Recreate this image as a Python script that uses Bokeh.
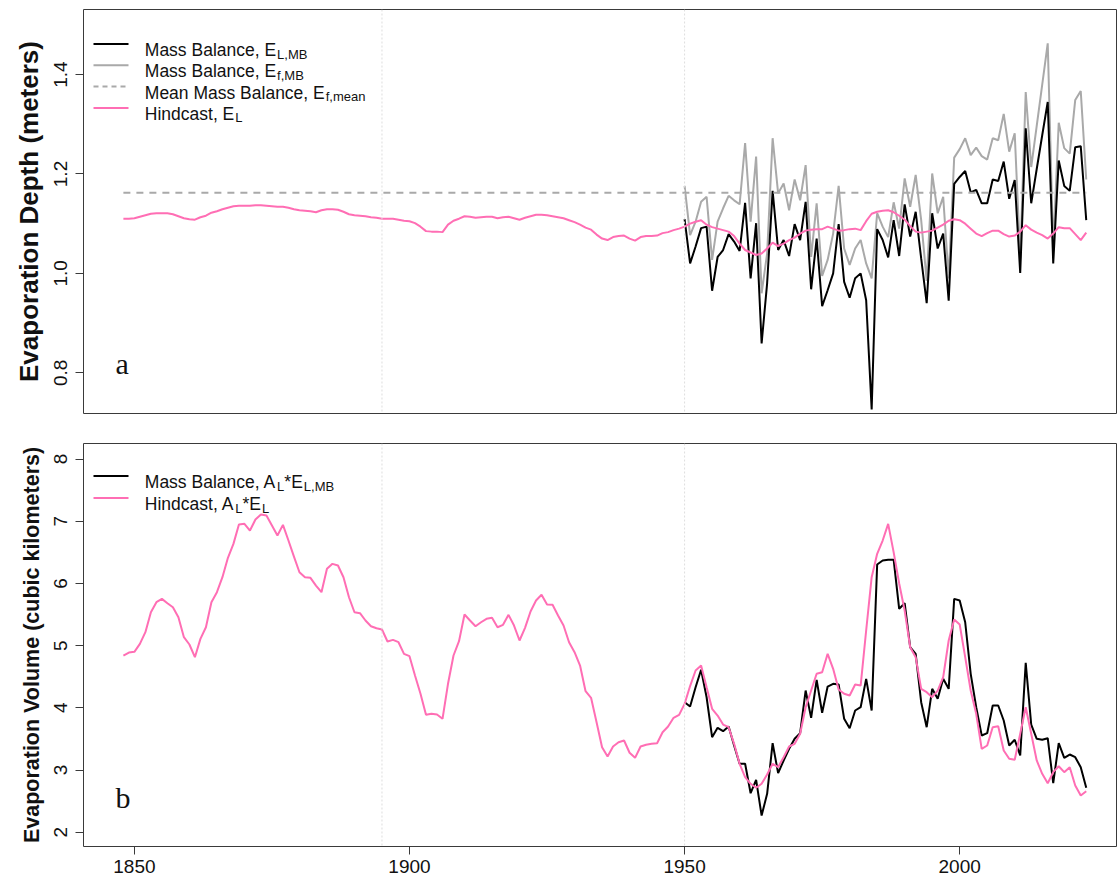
from bokeh.plotting import figure
from bokeh.layouts import column
from bokeh.models import Span, Label, Arrow, FixedTicker, Range1d, PrintfTickFormatter
from bokeh.embed import file_html
from bokeh.resources import INLINE

# ---------------------------------------------------------------- data
years_hindcast = list(range(1848, 2024))
years_mb = list(range(1950, 2024))

# Hindcast lake evaporation depth, E_L (m)
depth_hindcast = [
    1.110, 1.110, 1.111, 1.114, 1.117, 1.120, 1.121, 1.121, 1.121, 1.119,
    1.115, 1.111, 1.109, 1.108, 1.113, 1.116, 1.122, 1.125, 1.129, 1.132,
    1.135, 1.136, 1.136, 1.136, 1.137, 1.137, 1.136, 1.135, 1.134, 1.134,
    1.132, 1.129, 1.127, 1.126, 1.125, 1.123, 1.127, 1.129, 1.129, 1.128,
    1.124, 1.119, 1.117, 1.116, 1.115, 1.113, 1.112, 1.110, 1.110, 1.110,
    1.108, 1.106, 1.105, 1.101, 1.094, 1.085, 1.084, 1.084, 1.083, 1.098,
    1.106, 1.110, 1.115, 1.114, 1.112, 1.113, 1.114, 1.114, 1.111, 1.113,
    1.114, 1.111, 1.108, 1.112, 1.115, 1.118, 1.118, 1.117, 1.115, 1.113,
    1.111, 1.107, 1.103, 1.098, 1.092, 1.088, 1.078, 1.070, 1.067, 1.073,
    1.075, 1.076, 1.070, 1.066, 1.073, 1.075, 1.075, 1.076, 1.081, 1.083,
    1.087, 1.090, 1.094, 1.100, 1.104, 1.107, 1.098, 1.093, 1.090, 1.087,
    1.084, 1.075, 1.060, 1.047, 1.042, 1.037, 1.040, 1.050, 1.062, 1.055,
    1.060, 1.067, 1.072, 1.080, 1.086, 1.088, 1.089, 1.089, 1.094, 1.090,
    1.086, 1.087, 1.089, 1.090, 1.087, 1.105, 1.120, 1.124, 1.126, 1.127,
    1.123, 1.116, 1.108, 1.095, 1.084, 1.082, 1.084, 1.086, 1.092, 1.098,
    1.106, 1.109, 1.107, 1.100, 1.090, 1.080, 1.075, 1.081, 1.086, 1.086,
    1.079, 1.074, 1.076, 1.084, 1.097, 1.088, 1.082, 1.077, 1.070, 1.080,
    1.093, 1.091, 1.091, 1.079, 1.067, 1.082,
]

# Mass balance lake evaporation depth, E_L,MB (m)
depth_mb_lake = [
    1.109, 1.020, 1.054, 1.091, 1.094, 0.965, 1.033, 1.047, 1.079, 1.064,
    1.045, 1.142, 0.990, 1.101, 0.859, 0.980, 1.166, 1.047, 1.067, 1.035,
    1.099, 1.067, 1.144, 0.968, 1.070, 0.934, 0.966, 1.000, 1.099, 0.983,
    0.951, 0.990, 1.000, 0.946, 0.726, 1.089, 1.067, 1.032, 1.107, 1.035,
    1.139, 1.074, 1.124, 1.030, 0.940, 1.121, 1.050, 1.080, 0.945, 1.180,
    1.194, 1.206, 1.163, 1.168, 1.141, 1.141, 1.189, 1.186, 1.225, 1.150,
    1.188, 1.001, 1.292, 1.141, 1.210, 1.278, 1.345, 1.020, 1.227, 1.176,
    1.166, 1.254, 1.256, 1.107,
]

# Mass balance evaporation depth, E_f,MB (m)
depth_mb_f = [
    1.176, 1.077, 1.104, 1.144, 1.154, 1.027, 1.104, 1.131, 1.156, 1.147,
    1.139, 1.262, 1.104, 1.235, 0.960, 1.040, 1.272, 1.161, 1.181, 1.127,
    1.189, 1.147, 1.218, 1.033, 1.141, 0.995, 1.027, 1.080, 1.176, 1.050,
    1.017, 1.050, 1.067, 1.020, 0.990, 1.121, 1.094, 1.073, 1.143, 1.090,
    1.191, 1.134, 1.198, 1.107, 0.985, 1.201, 1.121, 1.154, 0.990, 1.233,
    1.250, 1.272, 1.238, 1.253, 1.236, 1.229, 1.272, 1.268, 1.321, 1.245,
    1.282, 1.030, 1.365, 1.214, 1.297, 1.380, 1.463, 1.050, 1.303, 1.252,
    1.241, 1.349, 1.367, 1.189,
]

# Mean mass balance depth, E_f,mean (m)
mean_years = [1848, 2023]
depth_mean = [1.162, 1.162]

# Hindcast evaporation volume, A_L*E_L (km^3)
volume_hindcast = [
    4.841, 4.889, 4.900, 5.029, 5.216, 5.537, 5.698, 5.752, 5.682, 5.617,
    5.457, 5.135, 5.018, 4.814, 5.109, 5.296, 5.698, 5.859, 6.100, 6.412,
    6.636, 6.947, 6.958, 6.850, 7.027, 7.108, 7.091, 6.931, 6.770, 6.942,
    6.690, 6.432, 6.180, 6.100, 6.090, 5.966, 5.859, 6.235, 6.315, 6.288,
    6.100, 5.778, 5.537, 5.521, 5.404, 5.312, 5.280, 5.259, 5.066, 5.093,
    5.055, 4.868, 4.830, 4.519, 4.225, 3.887, 3.904, 3.892, 3.823, 4.386,
    4.841, 5.071, 5.500, 5.404, 5.312, 5.376, 5.431, 5.447, 5.296, 5.334,
    5.495, 5.323, 5.082, 5.286, 5.548, 5.725, 5.817, 5.661, 5.656, 5.484,
    5.323, 5.055, 4.894, 4.680, 4.267, 4.161, 3.768, 3.367, 3.217, 3.378,
    3.447, 3.474, 3.277, 3.196, 3.378, 3.405, 3.421, 3.431, 3.608, 3.699,
    3.839, 3.887, 4.064, 4.350, 4.600, 4.680, 4.331, 3.984, 3.876, 3.731,
    3.688, 3.421, 3.100, 2.884, 2.778, 2.714, 2.778, 2.928, 3.100, 3.045,
    3.206, 3.378, 3.421, 3.582, 4.010, 4.278, 4.547, 4.572, 4.868, 4.627,
    4.294, 4.225, 4.198, 4.375, 4.358, 5.243, 6.100, 6.476, 6.690, 6.958,
    6.500, 6.000, 5.564, 4.974, 4.814, 4.305, 4.251, 4.170, 4.278, 4.492,
    5.082, 5.420, 5.339, 4.814, 4.278, 3.904, 3.341, 3.394, 3.688, 3.704,
    3.314, 3.180, 3.164, 3.582, 4.010, 3.582, 3.153, 2.939, 2.788, 2.965,
    3.061, 2.965, 3.045, 2.751, 2.590, 2.659,
]

# Mass balance evaporation volume, A_L*E_L,MB (km^3)
volume_mb = [
    4.090, 4.021, 4.331, 4.611, 4.170, 3.527, 3.678, 3.624, 3.699, 3.394,
    3.100, 3.100, 2.627, 2.842, 2.268, 2.617, 3.431, 2.949, 3.153, 3.341,
    3.502, 3.592, 4.278, 3.839, 4.450, 3.920, 4.342, 4.386, 4.375, 3.823,
    3.672, 3.957, 4.010, 4.466, 3.957, 6.304, 6.368, 6.379, 6.379, 5.592,
    5.682, 4.974, 4.868, 4.090, 3.688, 4.305, 4.145, 4.466, 4.305, 5.752,
    5.725, 5.376, 4.547, 4.010, 3.555, 3.592, 4.037, 4.037, 3.796, 3.394,
    3.486, 3.233, 4.723, 3.731, 3.502, 3.486, 3.511, 2.788, 3.431, 3.196,
    3.249, 3.206, 3.045, 2.714,
]

x_ticks = [1850, 1900, 1950, 2000]
depth_ticks = [0.8, 1.0, 1.2, 1.4]
volume_ticks = [2, 3, 4, 5, 6, 7, 8]
marker_years = [1895, 1950]

# ---------------------------------------------------------------- style
BLACK = "#000000"
GREY = "#a9a9a9"
PINK = "#ff6eb4"
SANS = "Liberation Sans"
SERIF = "Liberation Serif"
LEGEND_SIZE = 17.5
SUB_SIZE = 13.0

# Arial/Helvetica advance widths (per 1000 em) for legend text layout
ADVANCE = {' ': 278, ',': 278, '*': 389, 'A': 667, 'B': 667, 'E': 667, 'H': 722,
           'L': 556, 'M': 833, 'a': 556, 'c': 500, 'd': 556, 'e': 556, 'f': 278,
           'i': 222, 'l': 222, 'm': 833, 'n': 556, 's': 500, 't': 278}


def text_width(s, size):
    return sum(ADVANCE.get(c, 556) for c in s) * size / 1000.0


def make_panel(y_lo, y_hi, frame_h, top_border, bottom_border, with_x_axis):
    p = figure(
        frame_width=1033, frame_height=frame_h,
        x_range=Range1d(1840.75, 2028.5), y_range=Range1d(y_lo, y_hi),
        output_backend="svg", toolbar_location=None,
        x_axis_location="below" if with_x_axis else None,
        min_border_left=83, min_border_right=1,
        min_border_top=top_border, min_border_bottom=bottom_border,
        background_fill_color="white", border_fill_color="white",
    )
    p.grid.visible = False
    p.outline_line_color = "#3a3a3a"
    p.outline_line_width = 1
    for ax in p.axis:
        ax.axis_line_color = None
        ax.major_tick_out = 8
        ax.major_tick_in = 0
        ax.minor_tick_out = 0
        ax.minor_tick_in = 0
        ax.major_tick_line_color = "#3a3a3a"
        ax.major_label_text_font = SANS
        ax.major_label_text_font_size = "19px"
        ax.major_label_text_color = "#111111"
        ax.axis_label_text_font = SANS
        ax.axis_label_text_font_style = "bold"
        ax.axis_label_text_color = "#111111"
    p.yaxis.major_label_orientation = "vertical"
    p.yaxis.major_label_standoff = 8
    p.yaxis.axis_label_standoff = 8
    if with_x_axis:
        p.xaxis.ticker = FixedTicker(ticks=x_ticks)
        p.xaxis.major_label_standoff = 5
    for yr in marker_years:
        p.add_layout(Span(location=yr, dimension="height", line_color="#dedede",
                          line_width=1, line_dash="2 2"))
    return p


def legend_row(p, y_base, parts, line_kw):
    """One legend entry: sample line, then text pieces (text, is_subscript)."""
    p.add_layout(Arrow(x_start=10, y_start=y_base + 6, x_end=45, y_end=y_base + 6,
                       start_units="screen", end_units="screen", start=None, end=None,
                       **line_kw))
    x = 61.3
    for text, sub in parts:
        size = SUB_SIZE if sub else LEGEND_SIZE
        p.add_layout(Label(x=x + (1 if sub else 0), y=y_base - (4 if sub else 0),
                           x_units="screen", y_units="screen", text=text,
                           text_font=SANS, text_font_size=f"{size}px",
                           text_color="#111111", text_baseline="alphabetic",
                           text_align="left"))
        x += text_width(text, size) + (1 if sub else 0)


# ---------------------------------------------------------------- panel a
top = make_panel(0.718, 1.531, 404, 9, 15, with_x_axis=False)
top.yaxis.ticker = FixedTicker(ticks=depth_ticks)
top.yaxis.formatter = PrintfTickFormatter(format="%.1f")
top.yaxis.axis_label = "Evaporation Depth (meters)"
top.yaxis.axis_label_text_font_size = "26px"

top.line(years_mb, depth_mb_f, line_color=GREY, line_width=2)
top.line(years_mb, depth_mb_lake, line_color=BLACK, line_width=2)
top.line(mean_years, depth_mean, line_color=GREY, line_width=2, line_dash="7 6")
top.line(years_hindcast, depth_hindcast, line_color=PINK, line_width=2)

legend_row(top, 363.5, [("Mass Balance, E", False), ("L,MB", True)],
           dict(line_color=BLACK, line_width=2))
legend_row(top, 342.2, [("Mass Balance, E", False), ("f,MB", True)],
           dict(line_color=GREY, line_width=2))
legend_row(top, 320.9, [("Mean Mass Balance, E", False), ("f,mean", True)],
           dict(line_color=GREY, line_width=2, line_dash="5 4"))
legend_row(top, 299.6, [("Hindcast, E", False), ("L", True)],
           dict(line_color=PINK, line_width=2))
top.add_layout(Label(x=32, y=50, x_units="screen", y_units="screen", text="a",
                     text_font=SERIF, text_font_size="30px", text_color="#111111",
                     text_baseline="alphabetic"))

# ---------------------------------------------------------------- panel b
bottom = make_panel(1.77, 8.25, 403, 15, 36, with_x_axis=True)
bottom.yaxis.ticker = FixedTicker(ticks=volume_ticks)
bottom.yaxis.axis_label = "Evaporation Volume (cubic kilometers)"
bottom.yaxis.axis_label_text_font_size = "21.5px"

bottom.line(years_mb, volume_mb, line_color=BLACK, line_width=2)
bottom.line(years_hindcast, volume_hindcast, line_color=PINK, line_width=2)

legend_row(bottom, 364.5,
           [("Mass Balance, A", False), ("L", True), ("*E", False), ("L,MB", True)],
           dict(line_color=BLACK, line_width=2))
legend_row(bottom, 342.5,
           [("Hindcast, A", False), ("L", True), ("*E", False), ("L", True)],
           dict(line_color=PINK, line_width=2))
bottom.add_layout(Label(x=32, y=49, x_units="screen", y_units="screen", text="b",
                        text_font=SERIF, text_font_size="30px", text_color="#111111",
                        text_baseline="alphabetic"))

layout = column(top, bottom, spacing=0)
open("out.html", "w").write(file_html(layout, INLINE))
